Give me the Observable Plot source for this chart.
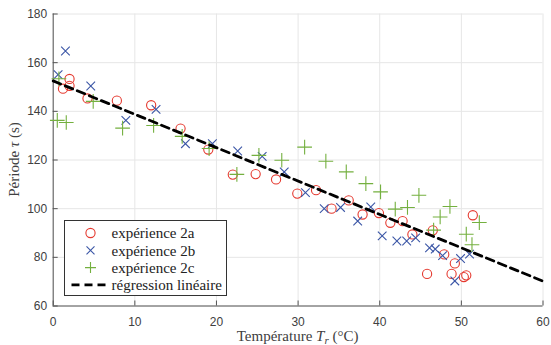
<!DOCTYPE html>
<html><head><meta charset="utf-8">
<script src="https://cdn.jsdelivr.net/npm/d3@7"></script>
<script src="https://cdn.jsdelivr.net/npm/@observablehq/plot@0.6"></script>
<style>
body{margin:0;background:#fff;}
#wrap{position:relative;width:551px;height:345px;overflow:hidden;}
</style></head><body><div id="wrap"></div>
<script>
// tick values
const xTicks = [0, 10, 20, 30, 40, 50, 60];
const yTicks = [60, 80, 100, 120, 140, 160, 180];

// expérience 2a (red circles)
const exp2aT = [1.2, 2.0, 2.0, 4.2, 7.8, 12.0, 15.6, 19.0, 22.0, 24.8, 27.3, 29.9, 32.2, 34.1, 36.2, 37.9, 39.9, 41.3, 42.8, 44.0, 45.8, 46.5, 47.9, 48.8, 49.2, 50.3, 50.6, 51.4];
const exp2aP = [149.3, 153.3, 150.5, 145.3, 144.4, 142.5, 132.9, 124.3, 114.0, 114.2, 112.0, 106.2, 107.6, 100.0, 103.4, 97.6, 98.2, 94.2, 94.9, 89.4, 73.2, 91.1, 81.2, 73.2, 77.5, 71.9, 72.6, 97.3];

// expérience 2b (blue crosses)
const exp2bT = [0.6, 1.5, 4.6, 8.9, 12.6, 16.2, 19.5, 22.6, 25.6, 28.3, 30.9, 33.2, 35.2, 37.3, 38.9, 40.3, 42.1, 43.3, 44.4, 46.1, 46.8, 47.7, 49.2, 49.9, 51.0];
const exp2bP = [155.1, 164.8, 150.4, 136.3, 140.8, 126.7, 126.7, 123.7, 121.5, 115.1, 106.6, 100.0, 100.5, 94.9, 100.7, 88.8, 86.7, 86.7, 88.0, 83.9, 83.4, 80.7, 70.3, 79.5, 81.3];

// expérience 2c (green plus)
const exp2cT = [0.7, 0.5, 1.6, 4.9, 8.5, 12.3, 15.8, 19.1, 22.5, 25.2, 28.0, 30.8, 33.4, 35.9, 38.3, 40.1, 41.9, 43.4, 44.8, 46.6, 47.4, 48.6, 50.6, 51.3, 52.2];
const exp2cP = [153.4, 136.3, 135.4, 144.1, 133.1, 134.2, 129.7, 124.7, 114.1, 121.9, 119.9, 125.3, 119.5, 115.1, 110.3, 106.9, 99.8, 100.5, 105.5, 91.2, 96.6, 100.9, 89.5, 85.2, 94.3];

// régression linéaire endpoints
const regT = [0, 60];
const regP = [152.5, 70.2];

const labels = ["expérience 2a", "expérience 2b", "expérience 2c", "régression linéaire"];

const RED = "#e5392f", BLUE = "#3b56a6", GREEN = "#74b03f";

const toRows = (ts, ps) => ts.map((t, i) => ({t, p: ps[i]}));
const d2a = toRows(exp2aT, exp2aP);
const d2b = toRows(exp2bT, exp2bP);
const d2c = toRows(exp2cT, exp2cP);
const dReg = toRows(regT, regP);

const W = 551, H = 345;
const mL = 52.7, mR = 8.5, mT = 13.5, mB = 39.5;
const innerW = W - mL - mR, innerH = H - mT - mB;

const chart = Plot.plot({
  width: W, height: H,
  marginLeft: mL, marginRight: mR, marginTop: mT, marginBottom: mB,
  x: {domain: [0, 60], ticks: xTicks},
  y: {domain: [60, 180], ticks: yTicks},
  style: {fontFamily: "'Liberation Sans', Arial, sans-serif", fontSize: "12px", color: "#404040", background: "#fff"},
  marks: [
    Plot.gridX(xTicks, {stroke: "#e6e6e6", strokeOpacity: 1}),
    Plot.gridY(yTicks, {stroke: "#e6e6e6", strokeOpacity: 1}),
    Plot.axisX(xTicks, {tickSize: 0, tickPadding: 11, label: null, fill: "#404040"}),
    Plot.axisY(yTicks, {tickSize: 0, tickPadding: 6, label: null, fill: "#404040"}),
    Plot.tickX(xTicks, {x: d => d, insetTop: innerH - 5, stroke: "#555"}),
    Plot.tickY(yTicks, {y: d => d, insetRight: innerW - 5, stroke: "#555"}),
    Plot.ruleY([60], {stroke: "#555"}),
    Plot.ruleX([0], {stroke: "#555"}),
    Plot.dot(d2a, {x: "t", y: "p", symbol: "circle", r: 4.6, stroke: RED, strokeWidth: 1.1, fill: "none"}),
    Plot.dot(d2b, {x: "t", y: "p", symbol: "times", r: 4, stroke: BLUE, strokeWidth: 1.1}),
    Plot.dot(d2c, {x: "t", y: "p", symbol: "plus", r: 4.8, stroke: GREEN, strokeWidth: 1.1}),
    Plot.line(dReg, {x: "t", y: "p", stroke: "#000", strokeWidth: 2.8, strokeDasharray: "8,5"})
  ]
});

const wrap = document.getElementById("wrap");
wrap.appendChild(chart);

const serif = "'Liberation Serif', 'Times New Roman', serif";
const svg = d3.select(chart);

// axis titles (rich text)
const xt = svg.append("text")
  .attr("x", mL + innerW / 2).attr("y", 341)
  .attr("text-anchor", "middle")
  .style("font-family", serif).style("font-size", "15px").style("fill", "#404040");
xt.append("tspan").text("Température ");
xt.append("tspan").style("font-style", "italic").text("T");
xt.append("tspan").style("font-style", "italic").style("font-size", "11px").attr("dy", 3).text("r");
xt.append("tspan").attr("dy", -3).text(" (°C)");

const yt = svg.append("text")
  .attr("transform", `translate(19,${mT + innerH / 2}) rotate(-90)`)
  .attr("text-anchor", "middle")
  .style("font-family", serif).style("font-size", "15px").style("fill", "#404040");
yt.append("tspan").text("Période ");
yt.append("tspan").style("font-style", "italic").text("τ");
yt.append("tspan").text(" (s)");

// legend (inside the plot area, lower left)
const lg = svg.append("g").attr("transform", "translate(64.5,220.5)");
lg.append("rect").attr("width", 162).attr("height", 75)
  .attr("fill", "#fff").attr("stroke", "#333").attr("stroke-width", 1);
const rowY = i => 12.5 + i * 17.3;
lg.append("circle").attr("cx", 26).attr("cy", rowY(0)).attr("r", 4.6)
  .attr("fill", "none").attr("stroke", RED).attr("stroke-width", 1.1);
lg.append("path").attr("d", `M22,${rowY(1) - 4}L30,${rowY(1) + 4}M22,${rowY(1) + 4}L30,${rowY(1) - 4}`)
  .attr("stroke", BLUE).attr("stroke-width", 1.1);
lg.append("path").attr("d", `M20.5,${rowY(2)}L31.5,${rowY(2)}M26,${rowY(2) - 5.5}L26,${rowY(2) + 5.5}`)
  .attr("stroke", GREEN).attr("stroke-width", 1.1);
lg.append("path").attr("d", `M7,${rowY(3)}L44,${rowY(3)}`)
  .attr("stroke", "#000").attr("stroke-width", 2.8).attr("stroke-dasharray", "8,5");
labels.forEach((lab, i) => {
  lg.append("text").attr("x", 47).attr("y", rowY(i)).attr("dy", "0.35em")
    .attr("text-anchor", "start")
    .style("font-family", serif).style("font-size", "15px").style("fill", "#222")
    .text(lab);
});
</script>
</body></html>
